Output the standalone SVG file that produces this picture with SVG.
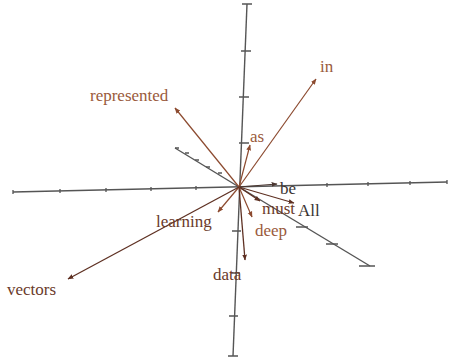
<svg xmlns="http://www.w3.org/2000/svg" width="450" height="360" viewBox="0 0 450 360">
<defs>
<marker id="ahB" viewBox="0 0 10 10" refX="9" refY="5" markerWidth="6" markerHeight="6" markerUnits="userSpaceOnUse" orient="auto"><path d="M0,1 L10,5 L0,9 Z" fill="#8c4a2f"/></marker>
<marker id="ahD" viewBox="0 0 10 10" refX="9" refY="5" markerWidth="6" markerHeight="6" markerUnits="userSpaceOnUse" orient="auto"><path d="M0,1 L10,5 L0,9 Z" fill="#5e3022"/></marker>
<marker id="ahG" viewBox="0 0 10 10" refX="9" refY="5" markerWidth="6" markerHeight="6" markerUnits="userSpaceOnUse" orient="auto"><path d="M0,1 L10,5 L0,9 Z" fill="#4a3630"/></marker>
</defs>
<style>
.ax{stroke:#555;fill:none;stroke-width:1.4}
.tk{stroke:#555;fill:none;stroke-width:1.3}
.v{stroke:#8c4a2f;stroke-width:1.2;fill:none;marker-end:url(#ahB)}
.vd{stroke:#5e3022;stroke-width:1.3;fill:none;marker-end:url(#ahD)}
.vg{stroke:#4a3630;stroke-width:1.2;fill:none;marker-end:url(#ahG)}
text{font-family:"Liberation Serif","Times New Roman",serif;font-size:17px;fill:#9a5a3c}
.td{fill:#6a3a2a}
.tg{fill:#3a3432}
</style>
<g id="axes">
<line class="ax" x1="13" y1="192" x2="447" y2="182"/>
<path class="tk" d="M13,190v4 M60,189v4 M106,188v4 M151,187v4 M196,186v4 M327,183v4 M368,182v4 M410,181v4 M447,180v4"/>
<line class="ax" x1="247" y1="4" x2="233" y2="356"/>
<path class="tk" d="M242,4h10 M241,51h10 M239,97h10 M239,143h10 M232,231h9 M231,273h9 M229,316h9 M228,356h10"/>
<line class="ax" x1="175" y1="148" x2="239" y2="187" stroke-width="1"/>
<path class="tk" stroke-width="1" d="M175,148h4 M185,153h4 M195,160h4 M206,167h4 M218,173h4"/>
<line class="ax" x1="239" y1="187" x2="370" y2="266" stroke-width="2"/>
<path class="tk" stroke-width="1.8" d="M296,227h12 M326,244h12 M359,266h16"/>
</g>
<g id="connectors">
<line class="v" x1="239" y1="187" x2="316" y2="79"/>
<line class="v" x1="239" y1="187" x2="175" y2="108"/>
<line class="v" x1="239" y1="187" x2="250" y2="145"/>
<line class="vg" x1="239" y1="187" x2="277" y2="184"/>
<line class="vd" x1="239" y1="187" x2="294" y2="203"/>
<line class="vd" x1="239" y1="187" x2="260" y2="201"/>
<line class="v" x1="239" y1="187" x2="252" y2="217"/>
<line class="vd" x1="239" y1="187" x2="245" y2="260"/>
<line class="v" x1="239" y1="187" x2="218" y2="212"/>
<line class="vd" x1="239" y1="187" x2="68" y2="279"/>
</g>
<g id="in"><text x="320" y="72">in</text></g>
<g id="represented"><text x="90" y="101">represented</text></g>
<g id="as"><text x="250" y="142">as</text></g>
<g id="be"><text class="tg" x="280" y="194">be</text></g>
<g id="All"><text class="tg" x="298" y="216">All</text></g>
<g id="must"><text class="td" x="262" y="214">must</text></g>
<g id="deep"><text x="255" y="236">deep</text></g>
<g id="data"><text class="td" x="213" y="280">data</text></g>
<g id="learning"><text class="td" x="156" y="227">learning</text></g>
<g id="vectors"><text class="td" x="7" y="295">vectors</text></g>
</svg>
